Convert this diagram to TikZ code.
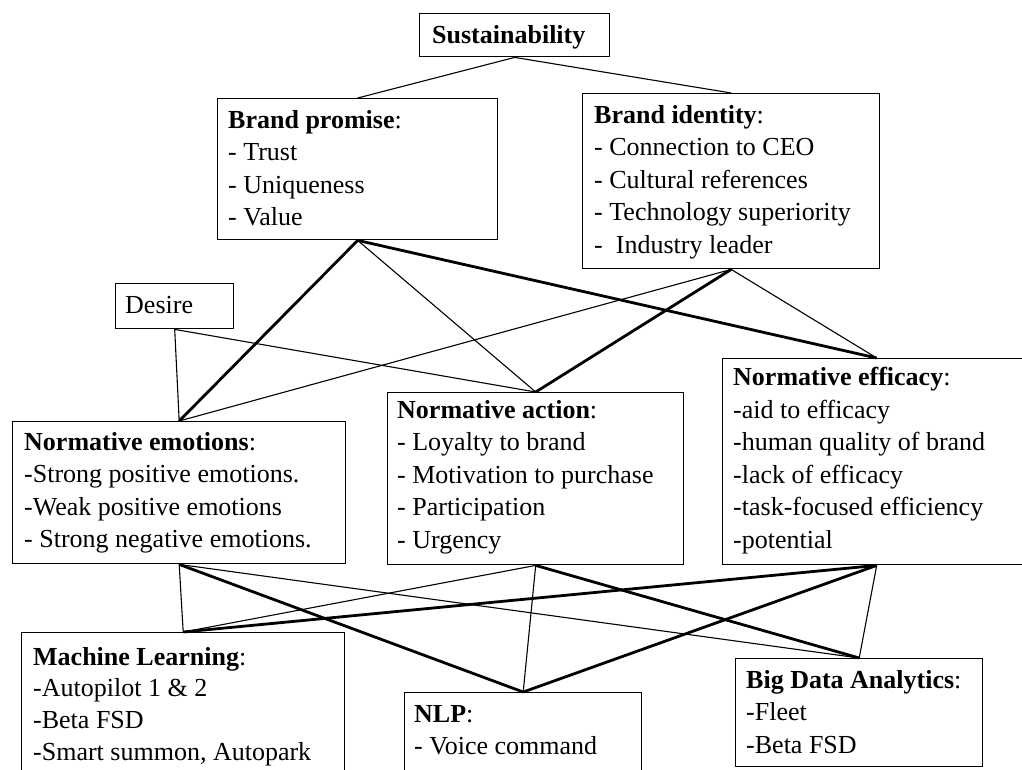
\documentclass[tikz,border=0pt]{standalone}
\usepackage{fontspec}
\setmainfont{Liberation Serif}
\newcommand{\bx}[1]{\fontsize{26}{32.5}\selectfont\begin{tabular}[t]{@{}l@{}}#1\end{tabular}}
\begin{document}
\begin{tikzpicture}[x=1pt,y=-1pt,
  box/.style={draw,line width=1.4pt,inner sep=0pt,anchor=north west},
  txt/.style={inner sep=0pt,anchor=base west},
  thin/.style={line width=1.1pt},
  thick/.style={line width=2.8pt}]
\useasboundingbox (0,0) rectangle (1022,769);
\clip (0,0) rectangle (1022,769);
% boxes
\node[box,minimum width=190pt,minimum height=43pt] (sus) at (419,13) {};
\node[box,minimum width=280pt,minimum height=141pt] (bp) at (217,98) {};
\node[box,minimum width=297pt,minimum height=175pt] (bi) at (582,93) {};
\node[box,minimum width=118pt,minimum height=45pt] (des) at (115,283) {};
\node[box,minimum width=333pt,minimum height=142pt] (nem) at (12,421) {};
\node[box,minimum width=296pt,minimum height=172pt] (nac) at (387,392) {};
\node[box,minimum width=308pt,minimum height=206pt] (nef) at (722,358) {};
\node[box,minimum width=323pt,minimum height=160pt] (ml) at (21,632) {};
\node[box,minimum width=237pt,minimum height=100pt] (nlp) at (404,692) {};
\node[box,minimum width=247pt,minimum height=108pt] (bda) at (735,658) {};
% texts
\node[txt] (tsus) at (432,43) {\bx{\textbf{Sustainability}}};
\node[txt] (tbp) at (228,128) {\bx{\textbf{Brand promise}:\\- Trust\\- Uniqueness\\- Value}};
\node[txt] (tbi) at (594,123) {\bx{\textbf{Brand identity}:\\- Connection to CEO\\- Cultural references\\- Technology superiority\\-\ \ Industry leader}};
\node[txt] (tdes) at (125,313) {\bx{Desire}};
\node[txt] (tnem) at (24,450) {\bx{\textbf{Normative emotions}:\\-Strong positive emotions.\\-Weak positive emotions\\- Strong negative emotions.}};
\node[txt] (tnac) at (397,418) {\bx{\textbf{Normative action}:\\- Loyalty to brand\\- Motivation to purchase\\- Participation\\- Urgency}};
\node[txt] (tnef) at (733,385.5) {\bx{\textbf{Normative efficacy}:\\-aid to efficacy\\-human quality of brand\\-lack of efficacy\\-task-focused efficiency\\-potential}};
\node[txt] (tml) at (33,665) {\fontsize{26}{31.7}\selectfont\begin{tabular}[t]{@{}l@{}}\textbf{Machine Learning}:\\-Autopilot 1 \& 2\\-Beta FSD\\-Smart summon, Autopark\end{tabular}};
\node[txt] (tnlp) at (414,722) {\bx{\textbf{NLP}:\\- Voice command}};
\node[txt] (tbda) at (746,688) {\bx{\textbf{Big Data Analytics}:\\-Fleet\\-Beta FSD}};
% connectors
\draw[thin] (sus.south) -- (bp.north);
\draw[thin] (sus.south) -- (bi.north);
\draw[thick] (bp.south) -- (nem.north);
\draw[thin] (bp.south) -- (nac.north);
\draw[thick] (bp.south) -- (nef.north);
\draw[thin] (bi.south) -- (nem.north);
\draw[thick] (bi.south) -- (nac.north);
\draw[thin] (bi.south) -- (nef.north);
\draw[thin] (des.south) -- (nem.north);
\draw[thin] (des.south) -- (nac.north);
\draw[thin] (nem.south) -- (ml.north);
\draw[thick] (nem.south) -- (nlp.north);
\draw[thin] (nem.south) -- (bda.north);
\draw[thin] (nac.south) -- (ml.north);
\draw[thin] (nac.south) -- (nlp.north);
\draw[thick] (nac.south) -- (bda.north);
\draw[thick] (nef.south) -- (ml.north);
\draw[thick] (nef.south) -- (nlp.north);
\draw[thin] (nef.south) -- (bda.north);
\end{tikzpicture}
\end{document}
